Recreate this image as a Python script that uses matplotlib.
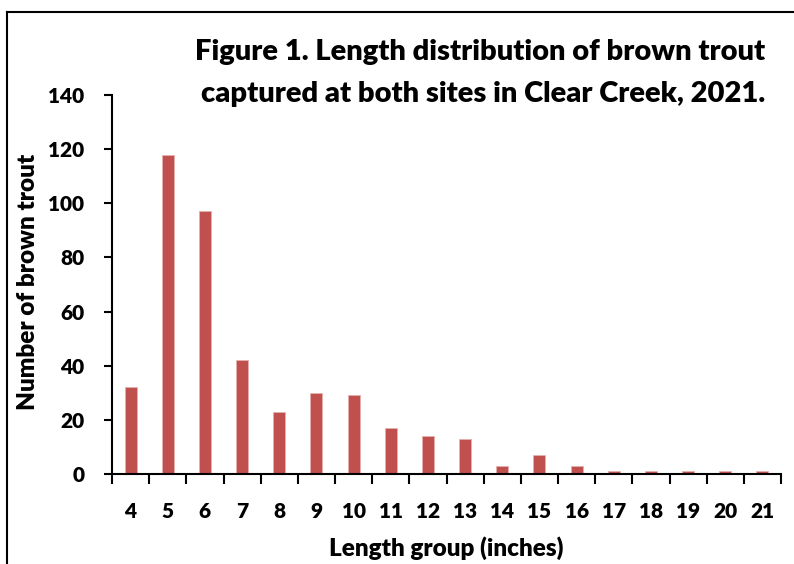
import matplotlib.pyplot as plt
from matplotlib.lines import Line2D
import numpy as np

# data
length_groups = [str(i) for i in range(4, 22)]
trout_counts = [32, 118, 97, 42, 23, 30, 29, 17, 14, 13, 3, 7, 3, 1, 1, 1, 1, 1]
y_ticks = [0, 20, 40, 60, 80, 100, 120, 140]

plt.rcParams['font.family'] = ['Lato', 'DejaVu Sans']
plt.rcParams['font.weight'] = 'heavy'
WEIGHT = 'heavy'

W, H = 794, 564
fig = plt.figure(figsize=(W / 100, H / 100), dpi=100)
# axes box in pixels: left 112, right 781, top 95, bottom 474
ax = fig.add_axes([112 / W, 1 - 474 / H, (781 - 112) / W, (474 - 95) / H])

x = np.arange(len(length_groups))
ax.bar(x, trout_counts, width=0.32, color='#C0504D', edgecolor='#E6B0AE', linewidth=0.6)

ax.set_xlim(-0.5, len(length_groups) - 0.5)
ax.set_ylim(0, 140)
ax.set_yticks(y_ticks)
ax.set_xticks(x)
ax.set_xticklabels(length_groups)
ax.set_xticks(np.arange(-0.5, len(length_groups)), minor=True)

ax.tick_params(axis='x', which='major', length=0, pad=20, labelsize=15)
ax.tick_params(axis='x', which='minor', length=7, width=1.5, direction='out')
ax.tick_params(axis='y', length=6, width=1.5, direction='out', pad=14, labelsize=15)
for t in ax.get_xticklabels() + ax.get_yticklabels():
    t.set_fontweight(WEIGHT)

ax.spines['top'].set_visible(False)
ax.spines['right'].set_visible(False)
ax.spines['left'].set_linewidth(1.5)
ax.spines['bottom'].set_linewidth(1.5)

ax.set_ylabel('Number of brown trout', fontsize=17.5, fontweight=WEIGHT)
ax.yaxis.set_label_coords(39 / W, 0.5, transform=fig.transFigure)
fig.text(446 / W, 1 - 548 / H, 'Length group (inches)', fontsize=17.5,
         fontweight=WEIGHT, ha='center', va='center')

fig.text(765 / W, 1 - 60 / H, 'Figure 1. Length distribution of brown trout',
         fontsize=21, fontweight=WEIGHT, ha='right', va='baseline')
fig.text(765 / W, 1 - 102 / H, 'captured at both sites in Clear Creek, 2021.',
         fontsize=21, fontweight=WEIGHT, ha='right', va='baseline')

# frame around the chart (cut off at right and bottom)
fig.add_artist(Line2D([7 / W, 7 / W], [0, 1 - 12 / H], transform=fig.transFigure,
                      color='black', linewidth=1.5))
fig.add_artist(Line2D([7 / W, 1], [1 - 12 / H, 1 - 12 / H], transform=fig.transFigure,
                      color='black', linewidth=1.5))

fig.savefig('out.png', dpi=100)
